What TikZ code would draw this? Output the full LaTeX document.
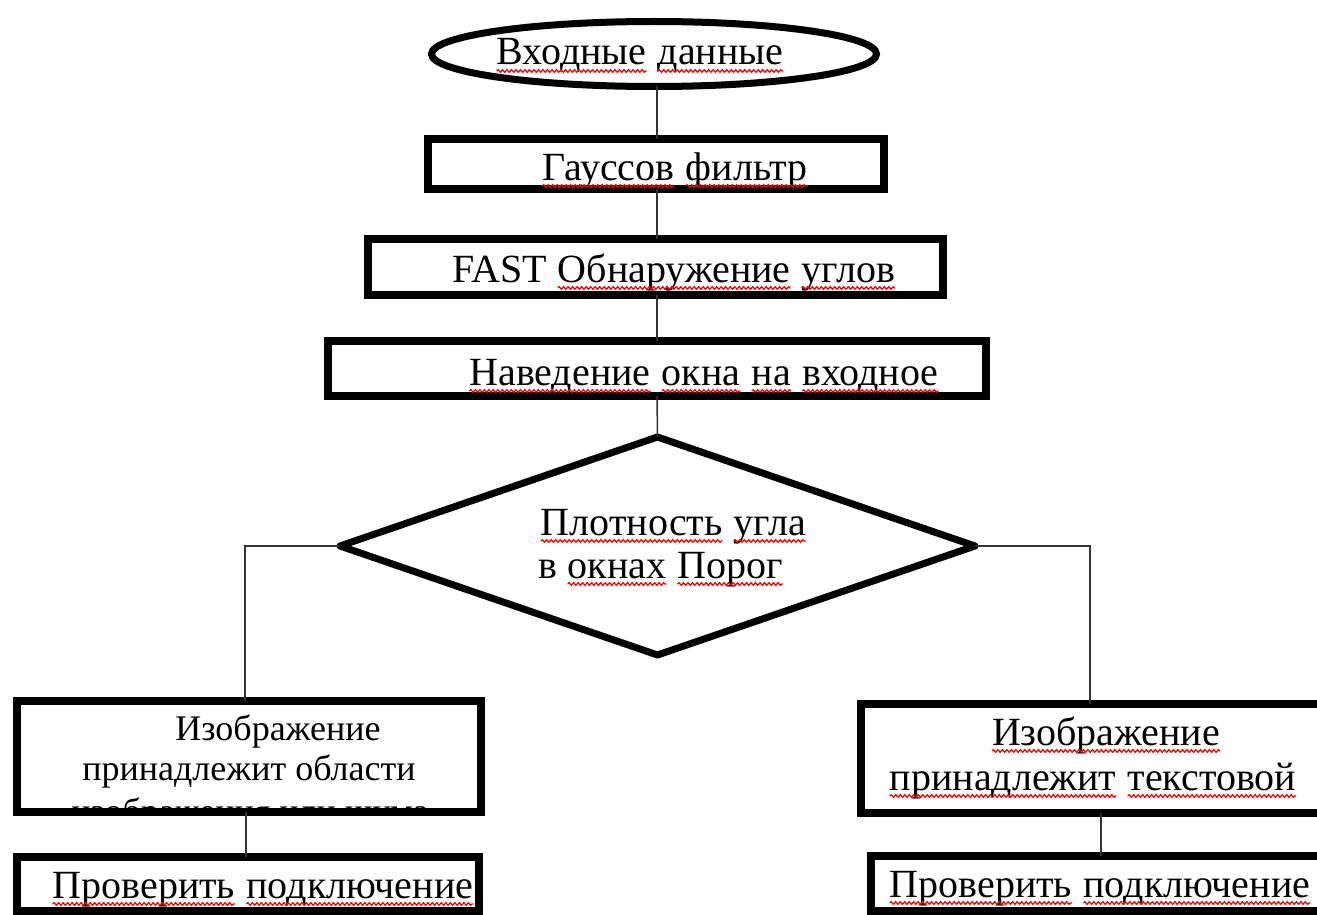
\documentclass[tikz,border=0pt]{standalone}
\usepackage{fontspec}
\setmainfont{Liberation Serif}
\usetikzlibrary{shapes.geometric,decorations.pathmorphing}
\newcommand\rsq[1]{\tikz[baseline=(w.base), x=1pt, y=1pt]{\node[inner sep=0pt, outer sep=0pt, anchor=base] (w) at (0,0) {#1};
  \draw[red, line width=1.3pt, decorate, decoration={snake, amplitude=1.3pt, segment length=4.5pt}] ([yshift=-6pt]w.base west) -- ([yshift=-6pt]w.base east);}}
\tikzset{
  boxst/.style={draw=black, line width=8pt, rectangle, inner sep=0pt, outer sep=0pt, fill=white},
  ellst/.style={draw=black, line width=7pt, ellipse, inner sep=0pt, outer sep=0pt, fill=white},
  diast/.style={draw=black, line width=7pt, diamond, inner sep=0pt, outer sep=0pt, line join=round, fill=white},
  conn/.style={draw=black!80, line width=1.5pt},
  txt/.style={font=\fontsize{40}{44}\selectfont, inner sep=0pt, anchor=base},
  txts/.style={font=\fontsize{36}{40}\selectfont, inner sep=0pt, anchor=base},
  txtl/.style={txt, anchor=base west}
}
\begin{document}
\begin{tikzpicture}[x=1pt, y=-1pt]
\useasboundingbox (0,0) rectangle (1317,915);
\fill[white] (0,0) rectangle (1317,915);
% shapes
\node[ellst, minimum width=445pt, minimum height=65pt] (e) at (654,54) {};
\node[boxst, minimum width=456pt, minimum height=50pt] (b1) at (656,164) {};
\node[boxst, minimum width=575pt, minimum height=56pt] (b2) at (655.5,267) {};
\node[boxst, minimum width=658pt, minimum height=55pt] (b3) at (657,368.5) {};
\node[diast, minimum width=635pt, minimum height=218pt] (d) at (657.5,546) {};
\node[boxst, minimum width=464pt, minimum height=111pt] (lb) at (249,756.5) {};
\node[boxst, minimum width=462pt, minimum height=54pt] (bl) at (248,884) {};
\node[boxst, minimum width=465pt, minimum height=109pt] (rb) at (1093.5,758.5) {};
\node[boxst, minimum width=455pt, minimum height=55pt] (br) at (1098.5,883.5) {};
% connectors
\draw[conn] (e.south -| 657,0) -- (b1.north -| 657,0);
\draw[conn] (b1.south -| 657,0) -- (b2.north -| 657,0);
\draw[conn] (b2.south -| 657,0) -- (b3.north -| 657,0);
\draw[conn] (b3.south -| 657,0) -- (d.north);
\draw[conn] (d.west) -- ++(-95,0) coordinate (lc) -- (lc |- lb.north);
\draw[conn] (d.east) -- ++(115,0) coordinate (rc) -- (rc |- rb.north);
\draw[conn] (lb.south -| 246,0) -- (bl.north -| 246,0);
\draw[conn] (rb.south -| 1101,0) -- (br.north -| 1101,0);
% texts
\node[txt] (te) at (640,65) {\rsq{Входные} \rsq{данные}};
\node[txt] (t1) at (675,180) {\rsq{Гауссов} \rsq{фильтр}};
\node[txt] (t2) at (674,282) {FAST \rsq{Обнаружение} \rsq{углов}};
\node[txt] (t3) at (704,385) {\rsq{Наведение} \rsq{окна} \rsq{на} \rsq{входное}};
\node[txtl] (td1) at (540,535) {\rsq{Плотность} \rsq{угла}};
\node[txtl] (td2) at (538,578) {в \rsq{окнах} \rsq{Порог}};
\node[txts] (tl1) at (278,740) {Изображение};
\node[txts] (tl2) at (249,780) {принадлежит области};
\begin{scope}
  \clip ([yshift=-4pt]lb.north west) rectangle ([yshift=4.5pt]lb.south east);
  \node[txts] (tl3) at (250,823) {изображения или шума};
\end{scope}
\node[txt] (tbl) at (263,898) {\rsq{Проверить} \rsq{подключение}};
\node[txt] (tr1) at (1106,745) {\rsq{Изображение}};
\node[txt] (tr2) at (1093,790) {\rsq{принадлежит} \rsq{текстовой}};
\node[txt] (tbr) at (1100,897) {\rsq{Проверить} \rsq{подключение}};
\end{tikzpicture}
\end{document}
